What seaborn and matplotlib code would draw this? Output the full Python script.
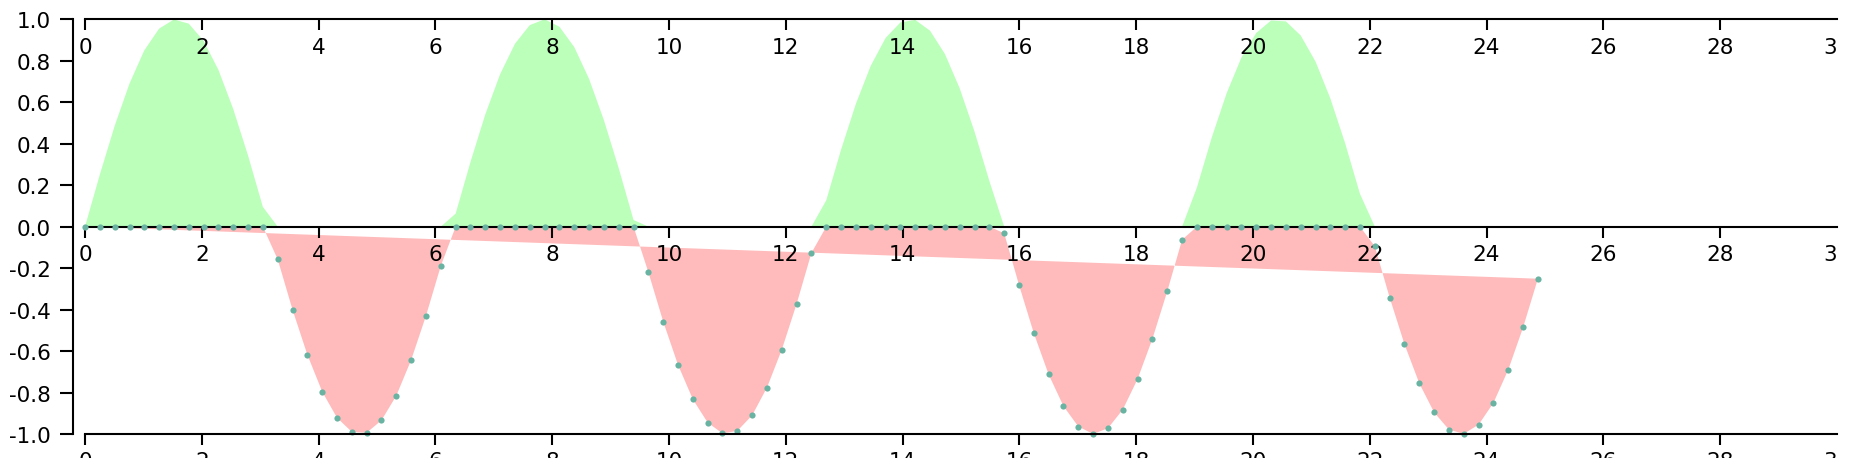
import numpy as np
import matplotlib
matplotlib.use("Agg")
import matplotlib.pyplot as plt
import seaborn as sns
from matplotlib.transforms import Bbox, TransformedBbox

# ---- data ----
x_values = [
    0.000, 0.254, 0.508, 0.762, 1.015, 1.269, 1.523, 1.777, 2.031, 2.285,
    2.539, 2.793, 3.046, 3.300, 3.554, 3.808, 4.062, 4.316, 4.570, 4.823,
    5.077, 5.331, 5.585, 5.839, 6.093, 6.347, 6.601, 6.854, 7.108, 7.362,
    7.616, 7.870, 8.124, 8.378, 8.631, 8.885, 9.139, 9.393, 9.647, 9.901,
    10.155, 10.409, 10.662, 10.916, 11.170, 11.424, 11.678, 11.932, 12.186, 12.439,
    12.693, 12.947, 13.201, 13.455, 13.709, 13.963, 14.216, 14.470, 14.724, 14.978,
    15.232, 15.486, 15.740, 15.994, 16.247, 16.501, 16.755, 17.009, 17.263, 17.517,
    17.771, 18.024, 18.278, 18.532, 18.786, 19.040, 19.294, 19.548, 19.801, 20.055,
    20.309, 20.563, 20.817, 21.071, 21.325, 21.579, 21.832, 22.086, 22.340, 22.594,
    22.848, 23.102, 23.356, 23.609, 23.863, 24.117, 24.371, 24.625, 24.879,
]
y_values = [
    0.000, 0.251, 0.486, 0.690, 0.850, 0.955, 0.999, 0.979, 0.896, 0.756,
    0.567, 0.342, 0.095, -0.158, -0.401, -0.618, -0.796, -0.922, -0.990, -0.994,
    -0.934, -0.815, -0.643, -0.430, -0.189, 0.063, 0.312, 0.541, 0.735, 0.882,
    0.972, 1.000, 0.964, 0.866, 0.713, 0.514, 0.282, 0.032, -0.220, -0.458,
    -0.667, -0.833, -0.945, -0.997, -0.985, -0.910, -0.776, -0.593, -0.372, -0.127,
    0.127, 0.372, 0.593, 0.776, 0.910, 0.985, 0.997, 0.945, 0.833, 0.667,
    0.458, 0.220, -0.032, -0.282, -0.514, -0.713, -0.866, -0.964, -1.000, -0.972,
    -0.882, -0.735, -0.541, -0.312, -0.063, 0.189, 0.430, 0.643, 0.815, 0.934,
    0.994, 0.990, 0.922, 0.796, 0.618, 0.401, 0.158, -0.095, -0.342, -0.567,
    -0.756, -0.896, -0.979, -0.999, -0.955, -0.850, -0.690, -0.486, -0.251,
]
x_ticks = [0, 2, 4, 6, 8, 10, 12, 14, 16, 18, 20, 22, 24, 26, 28, 30]
x_tick_labels = ["0", "2", "4", "6", "8", "10", "12", "14", "16", "18",
                 "20", "22", "24", "26", "28", "30"]
y_ticks = [1.0, 0.8, 0.6, 0.4, 0.2, 0.0, -0.2, -0.4, -0.6, -0.8, -1.0]
y_tick_labels = ["1.0", "0.8", "0.6", "0.4", "0.2", "0.0",
                 "-0.2", "-0.4", "-0.6", "-0.8", "-1.0"]

# ---- style ----
sns.set_style("white")
plt.rcParams["font.family"] = ["DejaVu Sans"]

W, H = 1852, 477
FS = 15.5
LW = 1.5
GREEN = "#bbffbb"
RED = "#ffbbbb"
DOT = "#69b3a2"

fig = plt.figure(figsize=(W / 100, H / 100), dpi=100)
fig.patch.set_facecolor("white")
rect = [85 / W, 1 - 435 / H, (1837 - 85) / W, (435 - 20.3) / H]

ax = fig.add_axes(rect, label="main")
ax.set_axisbelow(False)
x = np.array(x_values)
y = np.array(y_values)
pos = np.maximum(y, 0)
neg = np.minimum(y, 0)

ax.fill(x, pos, color=GREEN, lw=0, zorder=1)
ax.fill(x, neg, color=RED, lw=0, zorder=1)
sns.scatterplot(x=x, y=neg, color=DOT, s=20, linewidth=0, ax=ax,
                zorder=3, legend=False, clip_on=False)

ax.set_xlim(0, 30)
ax.set_ylim(-1, 1)
ax.patch.set_visible(False)
ax.spines["top"].set_visible(False)
ax.spines["right"].set_visible(False)
ax.spines["bottom"].set_position(("data", 0))
ax.spines["left"].set_position(("outward", 8.9))
for s in ("bottom", "left"):
    ax.spines[s].set_linewidth(LW)
    ax.spines[s].set_color("black")
ax.set_xticks(x_ticks, x_tick_labels)
ax.set_yticks(y_ticks, y_tick_labels)
ax.tick_params(axis="x", bottom=True, top=False, direction="out", length=8,
               width=LW, pad=4.5, labelsize=FS, color="black",
               labelcolor="black")
ax.tick_params(axis="y", left=True, right=False, direction="out", length=9.7,
               width=LW, pad=6.2, labelsize=FS, color="black",
               labelcolor="black")
ax.set_xlabel("")
ax.set_ylabel("")


def make_x_axis(label, position):
    a = fig.add_axes(rect, label=label)
    a.set_axisbelow(False)
    a.set_xlim(0, 30)
    a.set_ylim(-1, 1)
    a.patch.set_visible(False)
    for s in ("top", "right", "left"):
        a.spines[s].set_visible(False)
    a.spines["bottom"].set_position(position)
    a.spines["bottom"].set_linewidth(LW)
    a.spines["bottom"].set_color("black")
    a.set_yticks([])
    a.set_xticks(x_ticks, x_tick_labels)
    a.tick_params(axis="x", bottom=True, top=False, direction="out",
                  length=8, width=LW, pad=4.5, labelsize=FS, color="black",
                  labelcolor="black")
    return a


axT = make_x_axis("top", ("axes", 1.0))
axB = make_x_axis("bottom", ("axes", 0.0))

# viewport clip of the original drawing (right edge and bottom edge)
clip = TransformedBbox(Bbox.from_extents(0, 18.5 / H, 1836.5 / W, 1.0),
                       fig.transFigure)
for a in (ax, axT, axB):
    ticks = a.xaxis.get_major_ticks()
    for t in ticks:
        for art in (t.tick1line, t.label1):
            art.set_clip_on(True)
            art.set_clip_box(clip)
    # the tick mark at the very edge falls outside the original viewport
    ticks[-1].tick1line.set_visible(False)

fig.savefig("out.png", dpi=100, facecolor="white")
